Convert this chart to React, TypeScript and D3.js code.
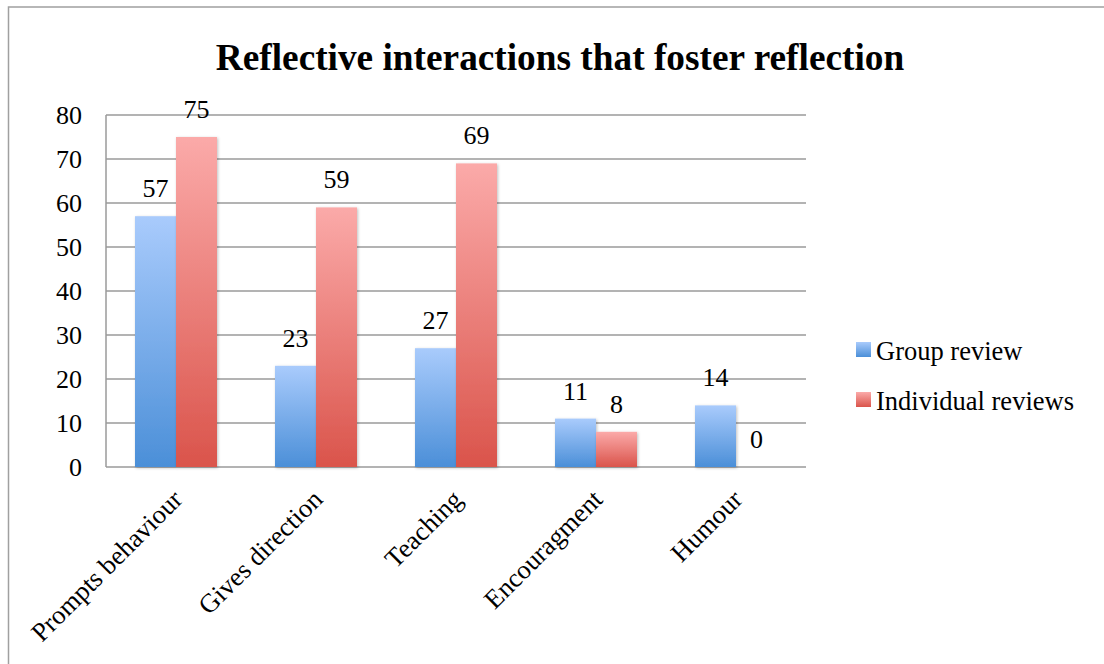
import React, { useRef, useEffect } from 'react';
import * as d3 from 'd3';

const categories = ['Prompts behaviour', 'Gives direction', 'Teaching', 'Encouragment', 'Humour'];
const groupReview = [57, 23, 27, 11, 14];
const individualReviews = [75, 59, 69, 8, 0];
const seriesNames = ['Group review', 'Individual reviews'];
const yTicks = [0, 10, 20, 30, 40, 50, 60, 70, 80];

const W = 1104;
const H = 664;
const FONT = '"Liberation Serif", "Times New Roman", serif';

const App: React.FC = () => {
    const ref = useRef<SVGSVGElement>(null);

    useEffect(() => {
        if (!ref.current) return;
        const svg = d3.select(ref.current);
        svg.selectAll('*').remove();

        const left = 106, right = 806, top = 115, bottom = 467;
        const barW = 41;

        const defs = svg.append('defs');
        const grads = [
            { id: 'gBlue', top: '#a9cbfc', bottom: '#4b8fd8' },
            { id: 'gRed', top: '#fbaaa9', bottom: '#da544b' },
        ];
        grads.forEach(g => {
            const lg = defs.append('linearGradient')
                .attr('id', g.id).attr('x1', 0).attr('y1', 0).attr('x2', 0).attr('y2', 1);
            lg.append('stop').attr('offset', '0%').attr('stop-color', g.top);
            lg.append('stop').attr('offset', '100%').attr('stop-color', g.bottom);
        });
        const shadow = defs.append('filter').attr('id', 'shadow')
            .attr('x', '-20%').attr('y', '-20%').attr('width', '140%').attr('height', '140%');
        shadow.append('feDropShadow')
            .attr('dx', 1).attr('dy', 1).attr('stdDeviation', 1.5)
            .attr('flood-color', '#000').attr('flood-opacity', 0.25);

        // outer frame
        svg.append('rect')
            .attr('x', 8.5).attr('y', 7).attr('width', 1110).attr('height', 680)
            .attr('fill', '#fff').attr('stroke', '#a0a0a0').attr('stroke-width', 1.5);

        // title
        svg.append('text')
            .attr('x', 560).attr('y', 70)
            .attr('text-anchor', 'middle')
            .attr('font-family', FONT).attr('font-size', 37.3).attr('font-weight', 'bold')
            .text('Reflective interactions that foster reflection');

        const x = d3.scaleBand<string>().domain(categories).range([left, right]).padding(0);
        const y = d3.scaleLinear().domain([0, 80]).range([bottom, top]);

        // grid lines
        svg.append('g').selectAll('line')
            .data(yTicks)
            .enter().append('line')
            .attr('x1', left).attr('x2', right)
            .attr('y1', d => y(d)).attr('y2', d => y(d))
            .attr('stroke', '#9a9a9a').attr('stroke-width', 1.5);

        svg.append('line')
            .attr('x1', left).attr('x2', left).attr('y1', top).attr('y2', bottom)
            .attr('stroke', '#9a9a9a').attr('stroke-width', 1.5);

        // y tick labels
        svg.append('g').selectAll('text')
            .data(yTicks)
            .enter().append('text')
            .attr('x', 82).attr('y', d => y(d) + 9)
            .attr('text-anchor', 'end')
            .attr('font-family', FONT).attr('font-size', 26)
            .text(d => d);

        const series = [
            { values: groupReview, fill: 'url(#gBlue)', offset: -barW },
            { values: individualReviews, fill: 'url(#gRed)', offset: 0 },
        ];

        series.forEach(s => {
            const g = svg.append('g');
            g.selectAll('rect')
                .data(categories)
                .enter().append('rect')
                .attr('x', c => (x(c) as number) + x.bandwidth() / 2 + s.offset)
                .attr('y', (c, i) => y(s.values[i]))
                .attr('width', barW)
                .attr('height', (c, i) => bottom - y(s.values[i]))
                .attr('fill', s.fill)
                .attr('filter', 'url(#shadow)');
            g.selectAll('text')
                .data(categories)
                .enter().append('text')
                .attr('x', c => (x(c) as number) + x.bandwidth() / 2 + s.offset + barW / 2)
                .attr('y', (c, i) => y(s.values[i]) - 19)
                .attr('text-anchor', 'middle')
                .attr('font-family', FONT).attr('font-size', 26)
                .text((c, i) => s.values[i]);
        });

        // category labels
        svg.append('g').selectAll('text')
            .data(categories)
            .enter().append('text')
            .attr('transform', c => `translate(${(x(c) as number) + x.bandwidth() / 2 + 8},${bottom + 34}) rotate(-45)`)
            .attr('text-anchor', 'end')
            .attr('font-family', FONT).attr('font-size', 26.5)
            .text(c => c);

        // legend
        const legend = svg.append('g').selectAll('g')
            .data(seriesNames)
            .enter().append('g')
            .attr('transform', (d, i) => `translate(856,${342 + i * 50})`);
        legend.append('rect')
            .attr('width', 15).attr('height', 15)
            .attr('fill', (d, i) => i === 0 ? 'url(#gBlue)' : 'url(#gRed)');
        legend.append('text')
            .attr('x', 20).attr('y', 18)
            .attr('font-family', FONT).attr('font-size', 26.5)
            .text(d => d);
    }, []);

    return (
        <svg ref={ref} width={W} height={H}
            style={{ position: 'absolute', left: 0, top: 0, background: '#fff' }} />
    );
};

export default App;
